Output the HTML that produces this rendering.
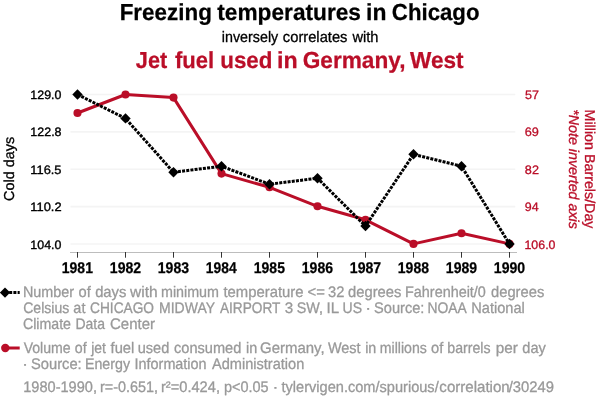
<!DOCTYPE html>
<html><head><meta charset="utf-8"><title>chart</title>
<style>
html,body{margin:0;padding:0;background:#fff;}
body{width:600px;height:408px;overflow:hidden;}
svg{display:block;will-change:transform;font-family:"Liberation Sans",sans-serif;}
svg text{text-rendering:geometricPrecision;}
</style></head><body>
<svg width="600" height="408" viewBox="0 0 600 408">
<rect width="600" height="408" fill="#fff"/>
<text x="119.65" y="20.0" font-size="23.2" fill="#000" textLength="92.20" lengthAdjust="spacingAndGlyphs" font-weight="bold" stroke="#000" stroke-width="0.25">Freezing</text>
<text x="217.32" y="20.0" font-size="23.2" fill="#000" textLength="143.63" lengthAdjust="spacingAndGlyphs" font-weight="bold" stroke="#000" stroke-width="0.25">temperatures</text>
<text x="366.08" y="20.0" font-size="23.2" fill="#000" textLength="20.36" lengthAdjust="spacingAndGlyphs" font-weight="bold" stroke="#000" stroke-width="0.25">in</text>
<text x="391.85" y="20.0" font-size="23.2" fill="#000" textLength="87.66" lengthAdjust="spacingAndGlyphs" font-weight="bold" stroke="#000" stroke-width="0.25">Chicago</text>
<text x="221.78" y="41.9" font-size="15.2" fill="#000" textLength="56.45" lengthAdjust="spacingAndGlyphs" stroke="#000" stroke-width="0.3">inversely</text>
<text x="282.85" y="41.9" font-size="15.2" fill="#000" textLength="64.59" lengthAdjust="spacingAndGlyphs" stroke="#000" stroke-width="0.3">correlates</text>
<text x="352.42" y="41.9" font-size="15.2" fill="#000" textLength="26.06" lengthAdjust="spacingAndGlyphs" stroke="#000" stroke-width="0.3">with</text>
<text x="135.85" y="68.0" font-size="23.2" fill="#ba0e28" textLength="31.43" lengthAdjust="spacingAndGlyphs" font-weight="bold" stroke="#ba0e28" stroke-width="0.25">Jet</text>
<text x="174.90" y="68.0" font-size="23.2" fill="#ba0e28" textLength="39.24" lengthAdjust="spacingAndGlyphs" font-weight="bold" stroke="#ba0e28" stroke-width="0.25">fuel</text>
<text x="220.26" y="68.0" font-size="23.2" fill="#ba0e28" textLength="52.17" lengthAdjust="spacingAndGlyphs" font-weight="bold" stroke="#ba0e28" stroke-width="0.25">used</text>
<text x="277.08" y="68.0" font-size="23.2" fill="#ba0e28" textLength="20.66" lengthAdjust="spacingAndGlyphs" font-weight="bold" stroke="#ba0e28" stroke-width="0.25">in</text>
<text x="302.65" y="68.0" font-size="23.2" fill="#ba0e28" textLength="102.90" lengthAdjust="spacingAndGlyphs" font-weight="bold" stroke="#ba0e28" stroke-width="0.25">Germany,</text>
<text x="409.98" y="68.0" font-size="23.2" fill="#ba0e28" textLength="53.61" lengthAdjust="spacingAndGlyphs" font-weight="bold" stroke="#ba0e28" stroke-width="0.25">West</text>
<line x1="70.5" x2="515.3" y1="94.50" y2="94.50" stroke="#f4f4f4" stroke-width="1.6"/>
<line x1="70.5" x2="515.3" y1="131.88" y2="131.88" stroke="#f4f4f4" stroke-width="1.6"/>
<line x1="70.5" x2="515.3" y1="169.25" y2="169.25" stroke="#f4f4f4" stroke-width="1.6"/>
<line x1="70.5" x2="515.3" y1="206.62" y2="206.62" stroke="#f4f4f4" stroke-width="1.6"/>
<line x1="70.5" x2="515.3" y1="244.00" y2="244.00" stroke="#f4f4f4" stroke-width="1.6"/>
<line x1="70" x2="517" y1="252.5" y2="252.5" stroke="#bdbdbd" stroke-width="1"/>
<line x1="77.5" x2="77.5" y1="252" y2="257.7" stroke="#333" stroke-width="1"/>
<text x="61.82" y="272.7" font-size="15.5" fill="#000" textLength="31.11" lengthAdjust="spacingAndGlyphs" font-weight="bold" stroke="#000" stroke-width="0.25">1981</text>
<line x1="125.5" x2="125.5" y1="252" y2="257.7" stroke="#333" stroke-width="1"/>
<text x="109.82" y="272.7" font-size="15.5" fill="#000" textLength="31.30" lengthAdjust="spacingAndGlyphs" font-weight="bold" stroke="#000" stroke-width="0.25">1982</text>
<line x1="173.5" x2="173.5" y1="252" y2="257.7" stroke="#333" stroke-width="1"/>
<text x="157.82" y="272.7" font-size="15.5" fill="#000" textLength="31.24" lengthAdjust="spacingAndGlyphs" font-weight="bold" stroke="#000" stroke-width="0.25">1983</text>
<line x1="221.5" x2="221.5" y1="252" y2="257.7" stroke="#333" stroke-width="1"/>
<text x="205.82" y="272.7" font-size="15.5" fill="#000" textLength="30.76" lengthAdjust="spacingAndGlyphs" font-weight="bold" stroke="#000" stroke-width="0.25">1984</text>
<line x1="269.5" x2="269.5" y1="252" y2="257.7" stroke="#333" stroke-width="1"/>
<text x="253.82" y="272.7" font-size="15.5" fill="#000" textLength="31.11" lengthAdjust="spacingAndGlyphs" font-weight="bold" stroke="#000" stroke-width="0.25">1985</text>
<line x1="317.5" x2="317.5" y1="252" y2="257.7" stroke="#333" stroke-width="1"/>
<text x="301.82" y="272.7" font-size="15.5" fill="#000" textLength="31.24" lengthAdjust="spacingAndGlyphs" font-weight="bold" stroke="#000" stroke-width="0.25">1986</text>
<line x1="365.5" x2="365.5" y1="252" y2="257.7" stroke="#333" stroke-width="1"/>
<text x="349.82" y="272.7" font-size="15.5" fill="#000" textLength="31.36" lengthAdjust="spacingAndGlyphs" font-weight="bold" stroke="#000" stroke-width="0.25">1987</text>
<line x1="413.5" x2="413.5" y1="252" y2="257.7" stroke="#333" stroke-width="1"/>
<text x="397.82" y="272.7" font-size="15.5" fill="#000" textLength="31.15" lengthAdjust="spacingAndGlyphs" font-weight="bold" stroke="#000" stroke-width="0.25">1988</text>
<line x1="461.5" x2="461.5" y1="252" y2="257.7" stroke="#333" stroke-width="1"/>
<text x="445.82" y="272.7" font-size="15.5" fill="#000" textLength="31.25" lengthAdjust="spacingAndGlyphs" font-weight="bold" stroke="#000" stroke-width="0.25">1989</text>
<line x1="509.5" x2="509.5" y1="252" y2="257.7" stroke="#333" stroke-width="1"/>
<text x="493.82" y="272.7" font-size="15.5" fill="#000" textLength="31.31" lengthAdjust="spacingAndGlyphs" font-weight="bold" stroke="#000" stroke-width="0.25">1990</text>
<text x="30.37" y="98.8" font-size="12.2" fill="#000" textLength="31.11" lengthAdjust="spacingAndGlyphs" stroke="#000" stroke-width="0.35">129.0</text>
<text x="30.37" y="136.3" font-size="12.2" fill="#000" textLength="31.16" lengthAdjust="spacingAndGlyphs" stroke="#000" stroke-width="0.35">122.8</text>
<text x="30.37" y="173.8" font-size="12.2" fill="#000" textLength="31.14" lengthAdjust="spacingAndGlyphs" stroke="#000" stroke-width="0.35">116.5</text>
<text x="30.37" y="211.3" font-size="12.2" fill="#000" textLength="31.24" lengthAdjust="spacingAndGlyphs" stroke="#000" stroke-width="0.35">110.2</text>
<text x="30.37" y="248.8" font-size="12.2" fill="#000" textLength="31.11" lengthAdjust="spacingAndGlyphs" stroke="#000" stroke-width="0.35">104.0</text>
<text x="524.91" y="98.8" font-size="12.2" fill="#ba0e28" textLength="14.00" lengthAdjust="spacingAndGlyphs" stroke="#ba0e28" stroke-width="0.3">57</text>
<text x="524.78" y="136.3" font-size="12.2" fill="#ba0e28" textLength="14.10" lengthAdjust="spacingAndGlyphs" stroke="#ba0e28" stroke-width="0.3">69</text>
<text x="524.87" y="173.8" font-size="12.2" fill="#ba0e28" textLength="14.04" lengthAdjust="spacingAndGlyphs" stroke="#ba0e28" stroke-width="0.3">82</text>
<text x="524.83" y="211.3" font-size="12.2" fill="#ba0e28" textLength="13.83" lengthAdjust="spacingAndGlyphs" stroke="#ba0e28" stroke-width="0.3">94</text>
<text x="524.47" y="248.8" font-size="12.2" fill="#ba0e28" textLength="31.01" lengthAdjust="spacingAndGlyphs" stroke="#ba0e28" stroke-width="0.3">106.0</text>
<text transform="translate(14.4,168.9) rotate(-90)" text-anchor="middle" font-size="14.4" fill="#000" stroke="#000" stroke-width="0.3">Cold days</text>
<text transform="translate(585,169) rotate(90)" text-anchor="middle" font-size="14.27" fill="#ba0e28" stroke="#ba0e28" stroke-width="0.3">Million Barrels/Day</text>
<text transform="translate(569,169) rotate(90)" text-anchor="middle" font-size="14.27" font-style="italic" fill="#ba0e28" stroke="#ba0e28" stroke-width="0.3">*Note inverted axis</text>
<polyline points="77.50,113.00 125.50,94.50 173.50,97.60 221.50,173.60 269.50,187.30 317.50,206.30 365.50,219.80 413.50,243.90 461.50,233.20 509.50,243.90" fill="none" stroke="#ba0e28" stroke-width="3" stroke-linejoin="round"/>
<circle cx="77.50" cy="113.00" r="4.05" fill="#ba0e28"/>
<circle cx="125.50" cy="94.50" r="4.05" fill="#ba0e28"/>
<circle cx="173.50" cy="97.60" r="4.05" fill="#ba0e28"/>
<circle cx="221.50" cy="173.60" r="4.05" fill="#ba0e28"/>
<circle cx="269.50" cy="187.30" r="4.05" fill="#ba0e28"/>
<circle cx="317.50" cy="206.30" r="4.05" fill="#ba0e28"/>
<circle cx="365.50" cy="219.80" r="4.05" fill="#ba0e28"/>
<circle cx="413.50" cy="243.90" r="4.05" fill="#ba0e28"/>
<circle cx="461.50" cy="233.20" r="4.05" fill="#ba0e28"/>
<circle cx="509.50" cy="243.90" r="4.05" fill="#ba0e28"/>
<polyline points="77.50,94.50 125.50,118.42 173.50,172.24 221.50,166.26 269.50,184.20 317.50,178.22 365.50,226.06 413.50,154.30 461.50,166.26 509.50,244.00" fill="none" stroke="#000" stroke-width="3" stroke-dasharray="3 1.2"/>
<path d="M72.30,94.50 L77.50,89.30 L82.70,94.50 L77.50,99.70 Z" fill="#000"/>
<path d="M120.30,118.42 L125.50,113.22 L130.70,118.42 L125.50,123.62 Z" fill="#000"/>
<path d="M168.30,172.24 L173.50,167.04 L178.70,172.24 L173.50,177.44 Z" fill="#000"/>
<path d="M216.30,166.26 L221.50,161.06 L226.70,166.26 L221.50,171.46 Z" fill="#000"/>
<path d="M264.30,184.20 L269.50,179.00 L274.70,184.20 L269.50,189.40 Z" fill="#000"/>
<path d="M312.30,178.22 L317.50,173.02 L322.70,178.22 L317.50,183.42 Z" fill="#000"/>
<path d="M360.30,226.06 L365.50,220.86 L370.70,226.06 L365.50,231.26 Z" fill="#000"/>
<path d="M408.30,154.30 L413.50,149.10 L418.70,154.30 L413.50,159.50 Z" fill="#000"/>
<path d="M456.30,166.26 L461.50,161.06 L466.70,166.26 L461.50,171.46 Z" fill="#000"/>
<path d="M504.30,244.00 L509.50,238.80 L514.70,244.00 L509.50,249.20 Z" fill="#000"/>
<line x1="5" x2="19.7" y1="292.6" y2="292.6" stroke="#000" stroke-width="3" stroke-dasharray="3 1.2"/>
<path d="M-0.20,292.60 L5.00,287.40 L10.20,292.60 L5.00,297.80 Z" fill="#000"/>
<line x1="5" x2="19.7" y1="348" y2="348" stroke="#ba0e28" stroke-width="3"/>
<circle cx="5.3" cy="348" r="4.2" fill="#ba0e28"/>
<text x="22.94" y="297.0" font-size="15.3" fill="#999999" textLength="51.01" lengthAdjust="spacingAndGlyphs" stroke="#999999" stroke-width="0.3">Number</text>
<text x="78.56" y="297.0" font-size="15.3" fill="#999999" textLength="12.22" lengthAdjust="spacingAndGlyphs" stroke="#999999" stroke-width="0.3">of</text>
<text x="95.16" y="297.0" font-size="15.3" fill="#999999" textLength="31.20" lengthAdjust="spacingAndGlyphs" stroke="#999999" stroke-width="0.3">days</text>
<text x="130.02" y="297.0" font-size="15.3" fill="#999999" textLength="27.67" lengthAdjust="spacingAndGlyphs" stroke="#999999" stroke-width="0.3">with</text>
<text x="160.98" y="297.0" font-size="15.3" fill="#999999" textLength="58.02" lengthAdjust="spacingAndGlyphs" stroke="#999999" stroke-width="0.3">minimum</text>
<text x="223.47" y="297.0" font-size="15.3" fill="#999999" textLength="80.01" lengthAdjust="spacingAndGlyphs" stroke="#999999" stroke-width="0.3">temperature</text>
<text x="307.55" y="297.0" font-size="15.3" fill="#999999" textLength="17.41" lengthAdjust="spacingAndGlyphs" stroke="#999999" stroke-width="0.3">&lt;=</text>
<text x="328.12" y="297.0" font-size="15.3" fill="#999999" textLength="16.35" lengthAdjust="spacingAndGlyphs" stroke="#999999" stroke-width="0.3">32</text>
<text x="348.06" y="297.0" font-size="15.3" fill="#999999" textLength="53.30" lengthAdjust="spacingAndGlyphs" stroke="#999999" stroke-width="0.3">degrees</text>
<text x="405.04" y="297.0" font-size="15.3" fill="#999999" textLength="80.85" lengthAdjust="spacingAndGlyphs" stroke="#999999" stroke-width="0.3">Fahrenheit/0</text>
<text x="491.06" y="297.0" font-size="15.3" fill="#999999" textLength="53.20" lengthAdjust="spacingAndGlyphs" stroke="#999999" stroke-width="0.3">degrees</text>
<text x="23.22" y="313.0" font-size="15.3" fill="#999999" textLength="46.03" lengthAdjust="spacingAndGlyphs" stroke="#999999" stroke-width="0.3">Celsius</text>
<text x="73.35" y="313.0" font-size="15.3" fill="#999999" textLength="12.06" lengthAdjust="spacingAndGlyphs" stroke="#999999" stroke-width="0.3">at</text>
<text x="90.02" y="313.0" font-size="15.3" fill="#999999" textLength="64.01" lengthAdjust="spacingAndGlyphs" stroke="#999999" stroke-width="0.3">CHICAGO</text>
<text x="159.04" y="313.0" font-size="15.3" fill="#999999" textLength="55.99" lengthAdjust="spacingAndGlyphs" stroke="#999999" stroke-width="0.3">MIDWAY</text>
<text x="219.97" y="313.0" font-size="15.3" fill="#999999" textLength="60.38" lengthAdjust="spacingAndGlyphs" stroke="#999999" stroke-width="0.3">AIRPORT</text>
<text x="284.72" y="313.0" font-size="15.3" fill="#999999" textLength="8.46" lengthAdjust="spacingAndGlyphs" stroke="#999999" stroke-width="0.3">3</text>
<text x="296.81" y="313.0" font-size="15.3" fill="#999999" textLength="26.27" lengthAdjust="spacingAndGlyphs" stroke="#999999" stroke-width="0.3">SW,</text>
<text x="326.59" y="313.0" font-size="15.3" fill="#999999" textLength="12.62" lengthAdjust="spacingAndGlyphs" stroke="#999999" stroke-width="0.3">IL</text>
<text x="342.52" y="313.0" font-size="15.3" fill="#999999" textLength="19.48" lengthAdjust="spacingAndGlyphs" stroke="#999999" stroke-width="0.3">US</text>
<text x="365.18" y="313.0" font-size="15.3" fill="#999999" textLength="5.84" lengthAdjust="spacingAndGlyphs" stroke="#999999" stroke-width="0.3">·</text>
<text x="374.01" y="313.0" font-size="15.3" fill="#999999" textLength="50.39" lengthAdjust="spacingAndGlyphs" stroke="#999999" stroke-width="0.3">Source:</text>
<text x="427.44" y="313.0" font-size="15.3" fill="#999999" textLength="39.28" lengthAdjust="spacingAndGlyphs" stroke="#999999" stroke-width="0.3">NOAA</text>
<text x="471.34" y="313.0" font-size="15.3" fill="#999999" textLength="53.48" lengthAdjust="spacingAndGlyphs" stroke="#999999" stroke-width="0.3">National</text>
<text x="22.92" y="329.0" font-size="15.3" fill="#999999" textLength="48.06" lengthAdjust="spacingAndGlyphs" stroke="#999999" stroke-width="0.3">Climate</text>
<text x="75.44" y="329.0" font-size="15.3" fill="#999999" textLength="29.56" lengthAdjust="spacingAndGlyphs" stroke="#999999" stroke-width="0.3">Data</text>
<text x="110.02" y="329.0" font-size="15.3" fill="#999999" textLength="44.93" lengthAdjust="spacingAndGlyphs" stroke="#999999" stroke-width="0.3">Center</text>
<text x="23.63" y="353.0" font-size="15.3" fill="#999999" textLength="47.05" lengthAdjust="spacingAndGlyphs" stroke="#999999" stroke-width="0.3">Volume</text>
<text x="74.86" y="353.0" font-size="15.3" fill="#999999" textLength="11.82" lengthAdjust="spacingAndGlyphs" stroke="#999999" stroke-width="0.3">of</text>
<text x="91.17" y="353.0" font-size="15.3" fill="#999999" textLength="14.74" lengthAdjust="spacingAndGlyphs" stroke="#999999" stroke-width="0.3">jet</text>
<text x="110.58" y="353.0" font-size="15.3" fill="#999999" textLength="23.74" lengthAdjust="spacingAndGlyphs" stroke="#999999" stroke-width="0.3">fuel</text>
<text x="137.71" y="353.0" font-size="15.3" fill="#999999" textLength="31.58" lengthAdjust="spacingAndGlyphs" stroke="#999999" stroke-width="0.3">used</text>
<text x="174.05" y="353.0" font-size="15.3" fill="#999999" textLength="67.24" lengthAdjust="spacingAndGlyphs" stroke="#999999" stroke-width="0.3">consumed</text>
<text x="245.98" y="353.0" font-size="15.3" fill="#999999" textLength="11.22" lengthAdjust="spacingAndGlyphs" stroke="#999999" stroke-width="0.3">in</text>
<text x="260.03" y="353.0" font-size="15.3" fill="#999999" textLength="64.64" lengthAdjust="spacingAndGlyphs" stroke="#999999" stroke-width="0.3">Germany,</text>
<text x="327.93" y="353.0" font-size="15.3" fill="#999999" textLength="32.68" lengthAdjust="spacingAndGlyphs" stroke="#999999" stroke-width="0.3">West</text>
<text x="365.18" y="353.0" font-size="15.3" fill="#999999" textLength="11.12" lengthAdjust="spacingAndGlyphs" stroke="#999999" stroke-width="0.3">in</text>
<text x="379.78" y="353.0" font-size="15.3" fill="#999999" textLength="47.07" lengthAdjust="spacingAndGlyphs" stroke="#999999" stroke-width="0.3">millions</text>
<text x="431.06" y="353.0" font-size="15.3" fill="#999999" textLength="12.22" lengthAdjust="spacingAndGlyphs" stroke="#999999" stroke-width="0.3">of</text>
<text x="447.31" y="353.0" font-size="15.3" fill="#999999" textLength="43.24" lengthAdjust="spacingAndGlyphs" stroke="#999999" stroke-width="0.3">barrels</text>
<text x="495.71" y="353.0" font-size="15.3" fill="#999999" textLength="22.04" lengthAdjust="spacingAndGlyphs" stroke="#999999" stroke-width="0.3">per</text>
<text x="522.36" y="353.0" font-size="15.3" fill="#999999" textLength="23.47" lengthAdjust="spacingAndGlyphs" stroke="#999999" stroke-width="0.3">day</text>
<text x="22.38" y="368.8" font-size="15.3" fill="#999999" textLength="5.64" lengthAdjust="spacingAndGlyphs" stroke="#999999" stroke-width="0.3">·</text>
<text x="31.01" y="368.8" font-size="15.3" fill="#999999" textLength="50.69" lengthAdjust="spacingAndGlyphs" stroke="#999999" stroke-width="0.3">Source:</text>
<text x="84.94" y="368.8" font-size="15.3" fill="#999999" textLength="45.08" lengthAdjust="spacingAndGlyphs" stroke="#999999" stroke-width="0.3">Energy</text>
<text x="134.59" y="368.8" font-size="15.3" fill="#999999" textLength="72.01" lengthAdjust="spacingAndGlyphs" stroke="#999999" stroke-width="0.3">Information</text>
<text x="211.97" y="368.8" font-size="15.3" fill="#999999" textLength="92.32" lengthAdjust="spacingAndGlyphs" stroke="#999999" stroke-width="0.3">Administration</text>
<text x="23.23" y="392.0" font-size="15.3" fill="#999999" textLength="73.74" lengthAdjust="spacingAndGlyphs" stroke="#999999" stroke-width="0.3">1980-1990,</text>
<text x="99.98" y="392.0" font-size="15.3" fill="#999999" textLength="57.99" lengthAdjust="spacingAndGlyphs" stroke="#999999" stroke-width="0.3">r=-0.651,</text>
<text x="160.98" y="392.0" font-size="15.3" fill="#999999" textLength="58.99" lengthAdjust="spacingAndGlyphs" stroke="#999999" stroke-width="0.3">r²=0.424,</text>
<text x="224.01" y="392.0" font-size="15.3" fill="#999999" textLength="44.63" lengthAdjust="spacingAndGlyphs" stroke="#999999" stroke-width="0.3">p&lt;0.05</text>
<text x="272.58" y="392.0" font-size="15.3" fill="#999999" textLength="5.84" lengthAdjust="spacingAndGlyphs" stroke="#999999" stroke-width="0.3">·</text>
<text x="281.47" y="392.0" font-size="15.3" fill="#999999" textLength="157.23" lengthAdjust="spacingAndGlyphs" stroke="#999999" stroke-width="0.3">tylervigen.com/spurious/</text>
<text x="439.35" y="392.0" font-size="15.3" fill="#999999" textLength="70.34" lengthAdjust="spacingAndGlyphs" stroke="#999999" stroke-width="0.3">correlation</text>
<text x="508.70" y="392.0" font-size="15.3" fill="#999999" textLength="45.32" lengthAdjust="spacingAndGlyphs" stroke="#999999" stroke-width="0.3">/30249</text>
</svg>
</body></html>
